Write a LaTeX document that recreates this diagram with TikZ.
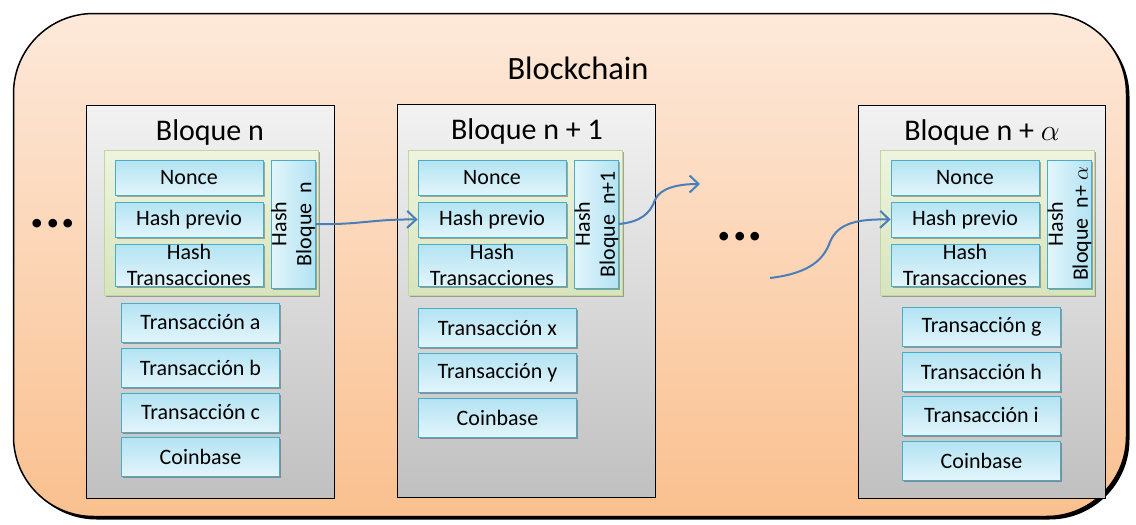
\RequirePackage{fix-cm}
\documentclass[tikz,border=0pt]{standalone}
\usepackage{fontspec}
\setmainfont{Carlito}
\usetikzlibrary{shadows,arrows.meta}

\definecolor{peachtop}{HTML}{FDE9DA}
\definecolor{peachbot}{HTML}{FAC08F}
\definecolor{graytop}{HTML}{F2F2F2}
\definecolor{graybot}{HTML}{C0C0C0}
\definecolor{greentop}{HTML}{EEF4DF}
\definecolor{greenbot}{HTML}{D7E4BD}
\definecolor{greenedge}{HTML}{C3D69B}
\definecolor{cyantop}{HTML}{B3E3F3}
\definecolor{cyanbot}{HTML}{E2F5FB}
\definecolor{cyanedge}{HTML}{4BACC6}
\definecolor{linkblue}{HTML}{4A7EBB}

\begin{document}
\begin{tikzpicture}[x=1pt,y=-1pt,
  softshadow/.style={drop shadow={shadow xshift=1.8pt,shadow yshift=-1.8pt,opacity=0.3,fill=black}},
  chain/.style={rounded corners=80pt, top color=peachtop, bottom color=peachbot,
    draw=black, line width=1.5pt, minimum width=1113pt, minimum height=503pt, inner sep=0pt,
    drop shadow={shadow xshift=3pt,shadow yshift=-3pt,opacity=1,fill=black}},
  blockbox/.style={draw=black, line width=0.9pt, top color=graytop, bottom color=graybot,
    inner sep=0pt, minimum height=393pt},
  header/.style={draw=greenedge, line width=1pt, top color=greentop, bottom color=greenbot,
    inner sep=0pt, minimum width=214pt, minimum height=145pt, softshadow},
  field/.style={draw=cyanedge, line width=0.8pt, top color=cyantop, bottom color=cyanbot,
    inner sep=0pt, minimum width=148pt, minimum height=35pt, align=center,
    font=\fontsize{22}{26}\selectfont, softshadow},
  tallfield/.style={field, minimum height=42pt},
  vfield/.style={draw=cyanedge, line width=0.8pt, right color=cyantop, left color=cyanbot,
    inner sep=0pt, minimum width=128pt, minimum height=40pt, align=center, rotate=90,
    font=\fontsize{22}{25}\selectfont, softshadow},
  txn/.style={field, minimum width=158pt, minimum height=39pt},
  title/.style={font=\fontsize{30}{36}\selectfont, inner sep=0pt},
  ellipsis/.style={font=\fontsize{58}{58}\selectfont\bfseries, inner sep=0pt},
  link/.style={draw=linkblue, line width=2pt, -{Straight Barb[length=9pt,width=17pt]}}
]
\useasboundingbox (0,0) rectangle (1136,525);

% the chain container
\node[chain] (chain) at (570,265) {};
\node[title, font=\fontsize{32.5}{36}\selectfont] (chaintitle) at (578,68) {Blockchain};

% ---- block n ----
\node[blockbox, minimum width=248pt] (b1) at (210,301.5) {};
\node[title] (t1) at (210,132) {Bloque n};
\node[header] (h1) at (211.5,222.5) {};
\node[field] (n1) at (189,177.5) {Nonce};
\node[field] (p1) at (189,219.5) {Hash previo};
\node[tallfield] (x1) at (189,265) {Hash\\Transacciones};
\node[vfield] (v1) at (293,224) {Hash\\Bloque\ \ n};
\node[txn] (a1) at (200.5,322.5) {Transacción a};
\node[txn] (a2) at (200.5,367.5) {Transacción b};
\node[txn] (a3) at (200.5,412.5) {Transacción c};
\node[txn] (a4) at (200.5,456.5) {Coinbase};

% ---- block n+1 ----
\node[blockbox, minimum width=258pt] (b2) at (526.5,301) {};
\node[title] (t2) at (527,131) {Bloque n + 1};
\node[header] (h2) at (515,222.5) {};
\node[field] (n2) at (492,177.5) {Nonce};
\node[field] (p2) at (492,219.5) {Hash previo};
\node[tallfield] (x2) at (492,265) {Hash\\Transacciones};
\node[vfield] (v2) at (596.5,224) {Hash\\Bloque\ \ n+1};
\node[txn] (c1) at (497.5,328) {Transacción x};
\node[txn] (c2) at (497.5,372.5) {Transacción y};
\node[txn] (c3) at (497.5,417.5) {Coinbase};

% ---- block n+alpha ----
\node[blockbox, minimum width=247pt] (b3) at (981.5,301.5) {};
\node[title] (t3) at (982,132) {Bloque n + $\alpha$};
\node[header] (h3) at (987.5,222.5) {};
\node[field] (n3) at (965,177.5) {Nonce};
\node[field] (p3) at (965,219.5) {Hash previo};
\node[tallfield] (x3) at (965,265) {Hash\\Transacciones};
\node[vfield] (v3) at (1069.5,224) {Hash\\Bloque\ \ n+ $\alpha$};
\node[txn] (g1) at (981.5,327) {Transacción g};
\node[txn] (g2) at (981.5,371.5) {Transacción h};
\node[txn] (g3) at (981.5,415.5) {Transacción i};
\node[txn] (g4) at (981.5,460.5) {Coinbase};

% ellipses
\node[ellipsis] (e1) at (53,224) {...};
\node[ellipsis] (e2) at (740,237) {...};

% links between blocks
\coordinate (out2) at (700,184);
\coordinate (in3) at (770,278);
\draw[link] (v1.south) .. controls (360,225) and (372,219) .. (p2.west);
\draw[link] (v2.south) .. controls (640,222) and (650,214) .. (655,200)
  .. controls (660,188) and (678,184) .. (out2);
\draw[link] (in3) .. controls (812,273) and (824,258) .. (830,242)
  .. controls (838,222) and (860,219) .. (p3.west);
\end{tikzpicture}
\end{document}
